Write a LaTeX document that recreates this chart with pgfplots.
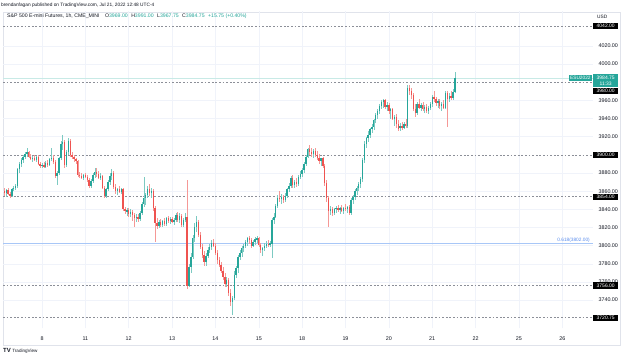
\documentclass[border=0pt]{standalone}
\usepackage{pgfplots}
\pgfplotsset{compat=1.18}
\usepackage{pgfplotstable}
\usepackage{fontspec}
\setmainfont{Liberation Sans}
\definecolor{upc}{HTML}{26A69A}
\definecolor{dnc}{HTML}{EF5350}
\definecolor{txt}{HTML}{131722}
\definecolor{gridc}{HTML}{F0F3FA}
\definecolor{framec}{HTML}{E0E3EB}
\definecolor{dashc}{HTML}{8C8F98}
\definecolor{fibc}{HTML}{A8C7F7}
\definecolor{fibt}{HTML}{5A8DEE}
\definecolor{lastc}{HTML}{C8EAE6}

\pgfplotstableread{
i O H L C
1 3860 3864 3855 3858
2 3858 3862 3854 3861
3 3861 3863 3856 3857
4 3857 3859 3852 3855
5 3855 3863 3854 3862
6 3862 3866 3860 3864
7 3864 3868 3861 3866
8 3866 3886 3864 3884
9 3884 3892 3880 3890
10 3890 3896 3887 3894
11 3894 3900 3891 3898
12 3898 3903 3895 3901
13 3901 3908 3898 3903
14 3903 3904 3896 3898
15 3898 3901 3894 3896
16 3896 3899 3892 3897
17 3897 3900 3893 3894
18 3894 3899 3892 3898
19 3898 3900 3889 3890
20 3890 3892 3886 3888
21 3888 3891 3885 3889
22 3889 3892 3886 3887
23 3887 3893 3885 3891
24 3891 3894 3887 3889
25 3889 3897 3888 3895
26 3895 3908 3893 3897
27 3897 3900 3890 3892
28 3892 3894 3874 3877
29 3877 3882 3867 3880
30 3880 3898 3878 3896
31 3896 3915 3894 3912
32 3912 3922 3905 3914
33 3914 3916 3886 3889
34 3889 3905 3887 3903
35 3903 3918 3900 3915
36 3915 3917 3898 3900
37 3900 3903 3895 3898
38 3898 3900 3892 3895
39 3895 3897 3890 3893
40 3893 3894 3876 3878
41 3878 3881 3874 3877
42 3877 3880 3873 3875
43 3875 3879 3872 3878
44 3878 3880 3874 3876
45 3876 3878 3870 3872
46 3872 3874 3864 3866
47 3866 3873 3864 3871
48 3871 3880 3869 3878
49 3878 3886 3875 3881
50 3881 3885 3876 3879
51 3879 3882 3873 3875
52 3875 3880 3872 3877
53 3877 3878 3862 3864
54 3864 3866 3852 3855
55 3855 3864 3853 3862
56 3862 3872 3860 3870
57 3870 3880 3867 3877
58 3877 3884 3872 3880
59 3880 3882 3862 3865
60 3865 3868 3857 3860
61 3860 3864 3856 3862
62 3862 3866 3858 3859
63 3859 3864 3857 3862
64 3862 3864 3838 3840
65 3840 3843 3835 3838
66 3838 3841 3833 3839
67 3839 3842 3832 3835
68 3835 3840 3831 3837
69 3837 3839 3827 3834
70 3834 3836 3821 3830
71 3830 3835 3826 3832
72 3832 3835 3826 3829
73 3829 3838 3827 3836
74 3836 3848 3834 3846
75 3846 3876 3843 3852
76 3852 3858 3845 3856
77 3856 3866 3852 3862
78 3862 3868 3855 3858
79 3858 3864 3852 3860
80 3860 3862 3838 3842
81 3842 3844 3804 3825
82 3825 3830 3818 3822
83 3822 3828 3819 3826
84 3826 3829 3820 3823
85 3823 3828 3821 3827
86 3827 3830 3822 3824
87 3824 3832 3822 3830
88 3830 3833 3825 3827
89 3827 3831 3824 3829
90 3829 3832 3825 3826
91 3826 3830 3823 3828
92 3828 3836 3826 3834
93 3834 3837 3826 3828
94 3828 3836 3825 3833
95 3833 3835 3820 3823
96 3823 3830 3821 3828
97 3828 3836 3826 3832
98 3832 3872 3752 3756
99 3756 3780 3754 3776
100 3776 3792 3770 3788
101 3788 3812 3785 3808
102 3808 3825 3804 3820
103 3820 3833 3815 3826
104 3826 3828 3810 3812
105 3812 3815 3796 3799
106 3799 3802 3786 3790
107 3790 3794 3778 3782
108 3782 3792 3778 3789
109 3789 3798 3786 3795
110 3795 3802 3792 3799
111 3799 3806 3795 3803
112 3803 3807 3798 3800
113 3800 3803 3790 3792
114 3792 3795 3780 3784
115 3784 3788 3776 3779
116 3779 3782 3770 3772
117 3772 3776 3762 3765
118 3765 3770 3755 3758
119 3758 3766 3754 3762
120 3762 3764 3745 3748
121 3748 3752 3734 3738
122 3738 3745 3724 3742
123 3742 3772 3740 3768
124 3768 3778 3764 3775
125 3775 3790 3770 3788
126 3788 3795 3784 3792
127 3792 3800 3788 3797
128 3797 3802 3793 3800
129 3800 3806 3797 3804
130 3804 3810 3800 3808
131 3808 3811 3802 3806
132 3806 3808 3797 3800
133 3800 3806 3798 3804
134 3804 3810 3801 3807
135 3807 3811 3803 3808
136 3808 3810 3798 3801
137 3801 3803 3792 3795
138 3795 3799 3789 3797
139 3797 3803 3794 3800
140 3800 3805 3797 3802
141 3802 3806 3798 3801
142 3801 3805 3798 3803
143 3802 3830 3786 3828
144 3828 3836 3824 3832
145 3832 3846 3830 3844
146 3844 3856 3841 3853
147 3853 3860 3848 3851
148 3851 3857 3846 3854
149 3854 3856 3847 3850
150 3850 3858 3848 3855
151 3855 3864 3852 3862
152 3862 3869 3859 3866
153 3866 3877 3863 3875
154 3875 3878 3864 3867
155 3867 3872 3864 3870
156 3870 3874 3865 3868
157 3868 3878 3866 3876
158 3876 3882 3873 3879
159 3879 3885 3876 3883
160 3883 3892 3880 3890
161 3890 3900 3888 3898
162 3898 3908 3896 3906
163 3906 3911 3900 3903
164 3903 3907 3898 3901
165 3901 3906 3897 3904
166 3904 3907 3898 3900
167 3900 3904 3894 3897
168 3897 3901 3890 3893
169 3893 3897 3888 3896
170 3896 3898 3885 3888
171 3888 3890 3866 3869
172 3869 3872 3848 3852
173 3852 3855 3821 3838
174 3838 3844 3834 3840
175 3840 3843 3833 3836
176 3836 3842 3834 3840
177 3840 3844 3836 3842
178 3842 3845 3837 3839
179 3839 3843 3835 3841
180 3841 3845 3837 3838
181 3838 3843 3835 3842
182 3842 3846 3838 3840
183 3840 3844 3836 3843
184 3843 3845 3834 3836
185 3836 3852 3834 3850
186 3850 3856 3846 3854
187 3854 3862 3850 3860
188 3860 3866 3856 3864
189 3864 3870 3860 3868
190 3868 3876 3864 3873
191 3873 3896 3870 3894
192 3894 3915 3891 3912
193 3912 3920 3908 3918
194 3918 3926 3914 3922
195 3922 3930 3918 3928
196 3928 3934 3924 3931
197 3931 3940 3927 3938
198 3938 3946 3935 3944
199 3944 3950 3939 3948
200 3948 3956 3945 3954
201 3954 3960 3950 3958
202 3958 3962 3952 3960
203 3960 3961 3950 3953
204 3953 3958 3948 3955
205 3955 3957 3945 3948
206 3948 3952 3940 3950
207 3950 3952 3938 3940
208 3940 3944 3932 3942
209 3942 3945 3930 3934
210 3934 3938 3926 3929
211 3929 3935 3926 3932
212 3932 3936 3927 3930
213 3930 3936 3928 3934
214 3934 3940 3930 3932
215 3932 3977 3930 3974
216 3974 3977 3966 3970
217 3970 3974 3962 3966
218 3966 3968 3948 3950
219 3950 3956 3942 3946
220 3946 3958 3944 3956
221 3956 3962 3950 3952
222 3952 3957 3948 3955
223 3955 3958 3948 3950
224 3950 3955 3946 3953
225 3953 3956 3946 3948
226 3948 3954 3945 3952
227 3952 3958 3949 3956
228 3956 3966 3953 3964
229 3964 3970 3958 3961
230 3961 3964 3954 3957
231 3957 3962 3952 3959
232 3959 3961 3950 3954
233 3954 3958 3948 3956
234 3956 3960 3950 3952
235 3952 3970 3950 3968
236 3968 3970 3931 3962
237 3962 3968 3958 3965
238 3965 3970 3960 3963
239 3963 3972 3960 3969
240 3969 3991 3967.75 3984.75
}\candles

\tikzset{
  bx/.style={fill=black, text=white, anchor=west, minimum width=25bp, minimum height=6.2bp, inner sep=0pt, font=\fontsize{5}{5}\selectfont},
  lvl/.style={dashc, line width=0.6bp, dash pattern=on 1.8bp off 1.8bp},
}

\begin{document}
\begin{tikzpicture}[font=\fontsize{5.4}{6}\selectfont, text=txt]
\useasboundingbox (0,0) rectangle (624bp,359bp);
\fill[white] (0,0) rectangle (624bp,359bp);
\draw[framec, line width=0.6bp] (3bp,14bp) rectangle (620bp,347bp);
\begin{axis}[
  at={(3bp,31bp)}, anchor=south west,
  width=590bp, height=317bp, scale only axis,
  xmin=0.31, xmax=313.3, ymin=3709.3, ymax=4058.4,
  axis line style={draw=none}, major tick length=0pt,
  xtick={21,44,...,297},
  xticklabels={8,11,12,13,14,15,18,19,20,21,22,25,26},
  xticklabel style={yshift=-5bp},
  ytick={3740,3760,3780,3800,3820,3840,3860,3880,3920,3940,3960,4000,4020},
  yticklabels={3740.00,3760.00,3780.00,3800.00,3820.00,3840.00,3860.00,3880.00,3920.00,3940.00,3960.00,4000.00,4020.00},
  yticklabel pos=right,
  yticklabel style={xshift=2bp},
  grid=major, grid style={gridc, line width=0.5bp},
  clip=false,
]
% reference levels
\addplot[lvl, forget plot] coordinates {(0.31,4042) (313.3,4042)};
\addplot[lvl, forget plot] coordinates {(0.31,3980) (313.3,3980)};
\addplot[lvl, forget plot] coordinates {(0.31,3900) (313.3,3900)};
\addplot[lvl, forget plot] coordinates {(0.31,3854) (313.3,3854)};
\addplot[lvl, forget plot] coordinates {(0.31,3756) (313.3,3756)};
\addplot[lvl, forget plot] coordinates {(0.31,3720.75) (313.3,3720.75)};
\addplot[fibc, line width=1.1bp, forget plot] coordinates {(0.31,3802) (313.3,3802)};
\addplot[lastc, line width=0.7bp, forget plot] coordinates {(0.31,3984.75) (313.3,3984.75)};
% wicks
\addplot[draw=none, mark=none, forget plot,
  error bars/.cd, y dir=both, y explicit, error mark=none,
  error bar style={draw=upc!60, line width=0.55bp}]
  table[x=i, y expr={\thisrow{C}>=\thisrow{O} ? (\thisrow{H}+\thisrow{L})/2 : nan},
        y error expr={(\thisrow{H}-\thisrow{L})/2}] {\candles};
\addplot[draw=none, mark=none, forget plot,
  error bars/.cd, y dir=both, y explicit, error mark=none,
  error bar style={draw=dnc!60, line width=0.55bp}]
  table[x=i, y expr={\thisrow{C}<\thisrow{O} ? (\thisrow{H}+\thisrow{L})/2 : nan},
        y error expr={(\thisrow{H}-\thisrow{L})/2}] {\candles};
% bodies
\addplot[draw=none, mark=none, forget plot,
  error bars/.cd, y dir=both, y explicit, error mark=none,
  error bar style={draw=upc, line width=1.35bp}]
  table[x=i, y expr={\thisrow{C}>=\thisrow{O} ? (\thisrow{O}+\thisrow{C})/2 : nan},
        y error expr={max(abs(\thisrow{C}-\thisrow{O})/2,0.35)}] {\candles};
\addplot[draw=none, mark=none, forget plot,
  error bars/.cd, y dir=both, y explicit, error mark=none,
  error bar style={draw=dnc, line width=1.35bp}]
  table[x=i, y expr={\thisrow{C}<\thisrow{O} ? (\thisrow{O}+\thisrow{C})/2 : nan},
        y error expr={max(abs(\thisrow{C}-\thisrow{O})/2,0.35)}] {\candles};
% anchors for price boxes
\coordinate (b4042) at (axis cs:313.3,4042);
\coordinate (b3980) at (axis cs:313.3,3970.3);
\coordinate (b3900) at (axis cs:313.3,3900);
\coordinate (b3854) at (axis cs:313.3,3854);
\coordinate (b3756) at (axis cs:313.3,3756);
\coordinate (b3720) at (axis cs:313.3,3720.75);
\coordinate (blast) at (axis cs:313.3,3989);
\coordinate (besu) at (axis cs:312.8,3984.75);
\coordinate (bfib) at (axis cs:311.7,3802);
\end{axis}
% price boxes
\node[bx] at (b4042) {4042.00};
\node[bx] at (b3980) {3980.00};
\node[bx] at (b3900) {3900.00};
\node[bx] at (b3854) {3854.00};
\node[bx] at (b3756) {3756.00};
\node[bx] at (b3720) {3720.75};
\node[fill=upc, text=white, anchor=north west, minimum width=25bp, minimum height=13bp, inner sep=0pt, align=center, font=\fontsize{5}{5.6}\selectfont] at (blast) {3984.75\\11:33};
\node[fill=upc, text=white, anchor=east, minimum width=23bp, minimum height=6.2bp, inner sep=0pt, font=\fontsize{4.8}{5}\selectfont] at (besu) {ESU2022};
\node[text=fibt, anchor=south east, inner sep=0pt, yshift=1.2bp, font=\fontsize{4.8}{5}\selectfont] at (bfib) {0.618(3802.00)};
% texts
\node[anchor=west, inner sep=0pt, font=\fontsize{4.8}{5}\selectfont] at (1bp,354bp) {brendanfagan published on TradingView.com, Jul 21, 2022 12:48 UTC-4};
\node[anchor=west, inner sep=0pt, font=\fontsize{5.2}{6}\selectfont] at (7bp,342.5bp) {S\&P 500 E-mini Futures, 1h, CME\_MINI\hspace{4bp} O\textcolor{upc}{3969.00}\hspace{2bp} H\textcolor{upc}{3991.00}\hspace{2bp} L\textcolor{upc}{3967.75}\hspace{2bp} C\textcolor{upc}{3984.75}\hspace{2bp} \textcolor{upc}{+15.75 (+0.40\%)}};
\node[anchor=west, inner sep=0pt, font=\fontsize{4.8}{5}\selectfont] at (597bp,342.5bp) {USD};
\node[anchor=west, inner sep=0pt, font=\fontsize{4.6}{5}\selectfont] at (3bp,8bp) {{\fontsize{6}{6}\selectfont\bfseries TV}\hspace{1.5bp}TradingView};
\end{tikzpicture}
\end{document}
